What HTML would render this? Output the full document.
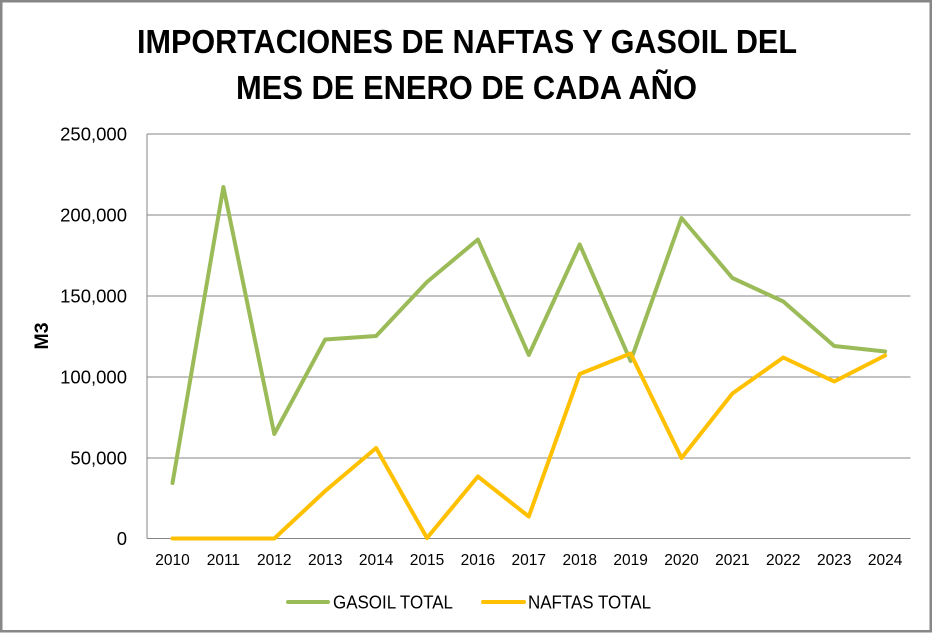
<!DOCTYPE html>
<html>
<head>
<meta charset="utf-8">
<style>
  html, body { margin: 0; padding: 0; background: #fff; }
  svg { display: block; }
  text { font-family: "Liberation Sans", "DejaVu Sans", sans-serif; fill: #000; }
</style>
</head>
<body>
<svg width="934" height="634" viewBox="0 0 934 634" xmlns="http://www.w3.org/2000/svg">
  <rect x="0" y="0" width="934" height="634" fill="#fff"/>
  <rect x="1.25" y="1.25" width="929.5" height="630" fill="#fff" stroke="#878787" stroke-width="2.5"/>

  <!-- Title -->
  <text x="467" y="53" text-anchor="middle" font-weight="bold" font-size="33" textLength="660" lengthAdjust="spacingAndGlyphs">IMPORTACIONES DE NAFTAS Y GASOIL DEL</text>
  <text x="466.5" y="99" text-anchor="middle" font-weight="bold" font-size="33" textLength="461" lengthAdjust="spacingAndGlyphs">MES DE ENERO DE CADA AÑO</text>

  <!-- Gridlines -->
  <g stroke="#868686" stroke-width="1">
    <line x1="147" y1="134" x2="910.5" y2="134"/>
    <line x1="147" y1="215" x2="910.5" y2="215"/>
    <line x1="147" y1="296" x2="910.5" y2="296"/>
    <line x1="147" y1="377" x2="910.5" y2="377"/>
    <line x1="147" y1="458" x2="910.5" y2="458"/>
    <line x1="147" y1="538.5" x2="910.5" y2="538.5"/>
    <line x1="147" y1="134" x2="147" y2="538.5"/>
  </g>

  <!-- Y labels -->
  <g font-size="18.5" text-anchor="end">
    <text x="127" y="140.5">250,000</text>
    <text x="127" y="221.5">200,000</text>
    <text x="127" y="302.5">150,000</text>
    <text x="127" y="383.5">100,000</text>
    <text x="127" y="464.5">50,000</text>
    <text x="127" y="545">0</text>
  </g>

  <!-- Y axis title -->
  <text transform="translate(48,336) rotate(-90)" text-anchor="middle" font-weight="bold" font-size="19.5">M3</text>

  <!-- X labels -->
  <g font-size="15.5" text-anchor="middle">
    <text x="172.5" y="565">2010</text>
    <text x="223.4" y="565">2011</text>
    <text x="274.3" y="565">2012</text>
    <text x="325.2" y="565">2013</text>
    <text x="376.1" y="565">2014</text>
    <text x="427" y="565">2015</text>
    <text x="477.9" y="565">2016</text>
    <text x="528.8" y="565">2017</text>
    <text x="579.7" y="565">2018</text>
    <text x="630.6" y="565">2019</text>
    <text x="681.5" y="565">2020</text>
    <text x="732.4" y="565">2021</text>
    <text x="783.3" y="565">2022</text>
    <text x="834.2" y="565">2023</text>
    <text x="885.1" y="565">2024</text>
  </g>

  <!-- Series -->
  <polyline fill="none" stroke="#9BBB59" stroke-width="4" stroke-linejoin="round" stroke-linecap="round"
    points="172.5,483 223.4,187 274.3,434 325.2,339.5 376.1,336 427,282 477.9,239.5 528.8,355 579.7,244.5 630.6,361 681.5,218 732.4,278 783.3,301.5 834.2,346 885.1,351.5"/>
  <polyline fill="none" stroke="#FFC000" stroke-width="4" stroke-linejoin="round" stroke-linecap="round"
    points="172.5,538.5 223.4,538.5 274.3,538.5 325.2,491 376.1,448 427,538 477.9,476.5 528.8,516.5 579.7,374 630.6,353.5 681.5,458 732.4,393.5 783.3,357.5 834.2,381.5 885.1,355.5"/>

  <!-- Legend -->
  <line x1="288" y1="602" x2="328" y2="602" stroke="#9BBB59" stroke-width="4" stroke-linecap="round"/>
  <text x="333" y="608.5" font-size="18" textLength="120" lengthAdjust="spacingAndGlyphs">GASOIL TOTAL</text>
  <line x1="483" y1="602" x2="524" y2="602" stroke="#FFC000" stroke-width="4" stroke-linecap="round"/>
  <text x="528" y="608.5" font-size="18" textLength="123" lengthAdjust="spacingAndGlyphs">NAFTAS TOTAL</text>
</svg>
</body>
</html>
